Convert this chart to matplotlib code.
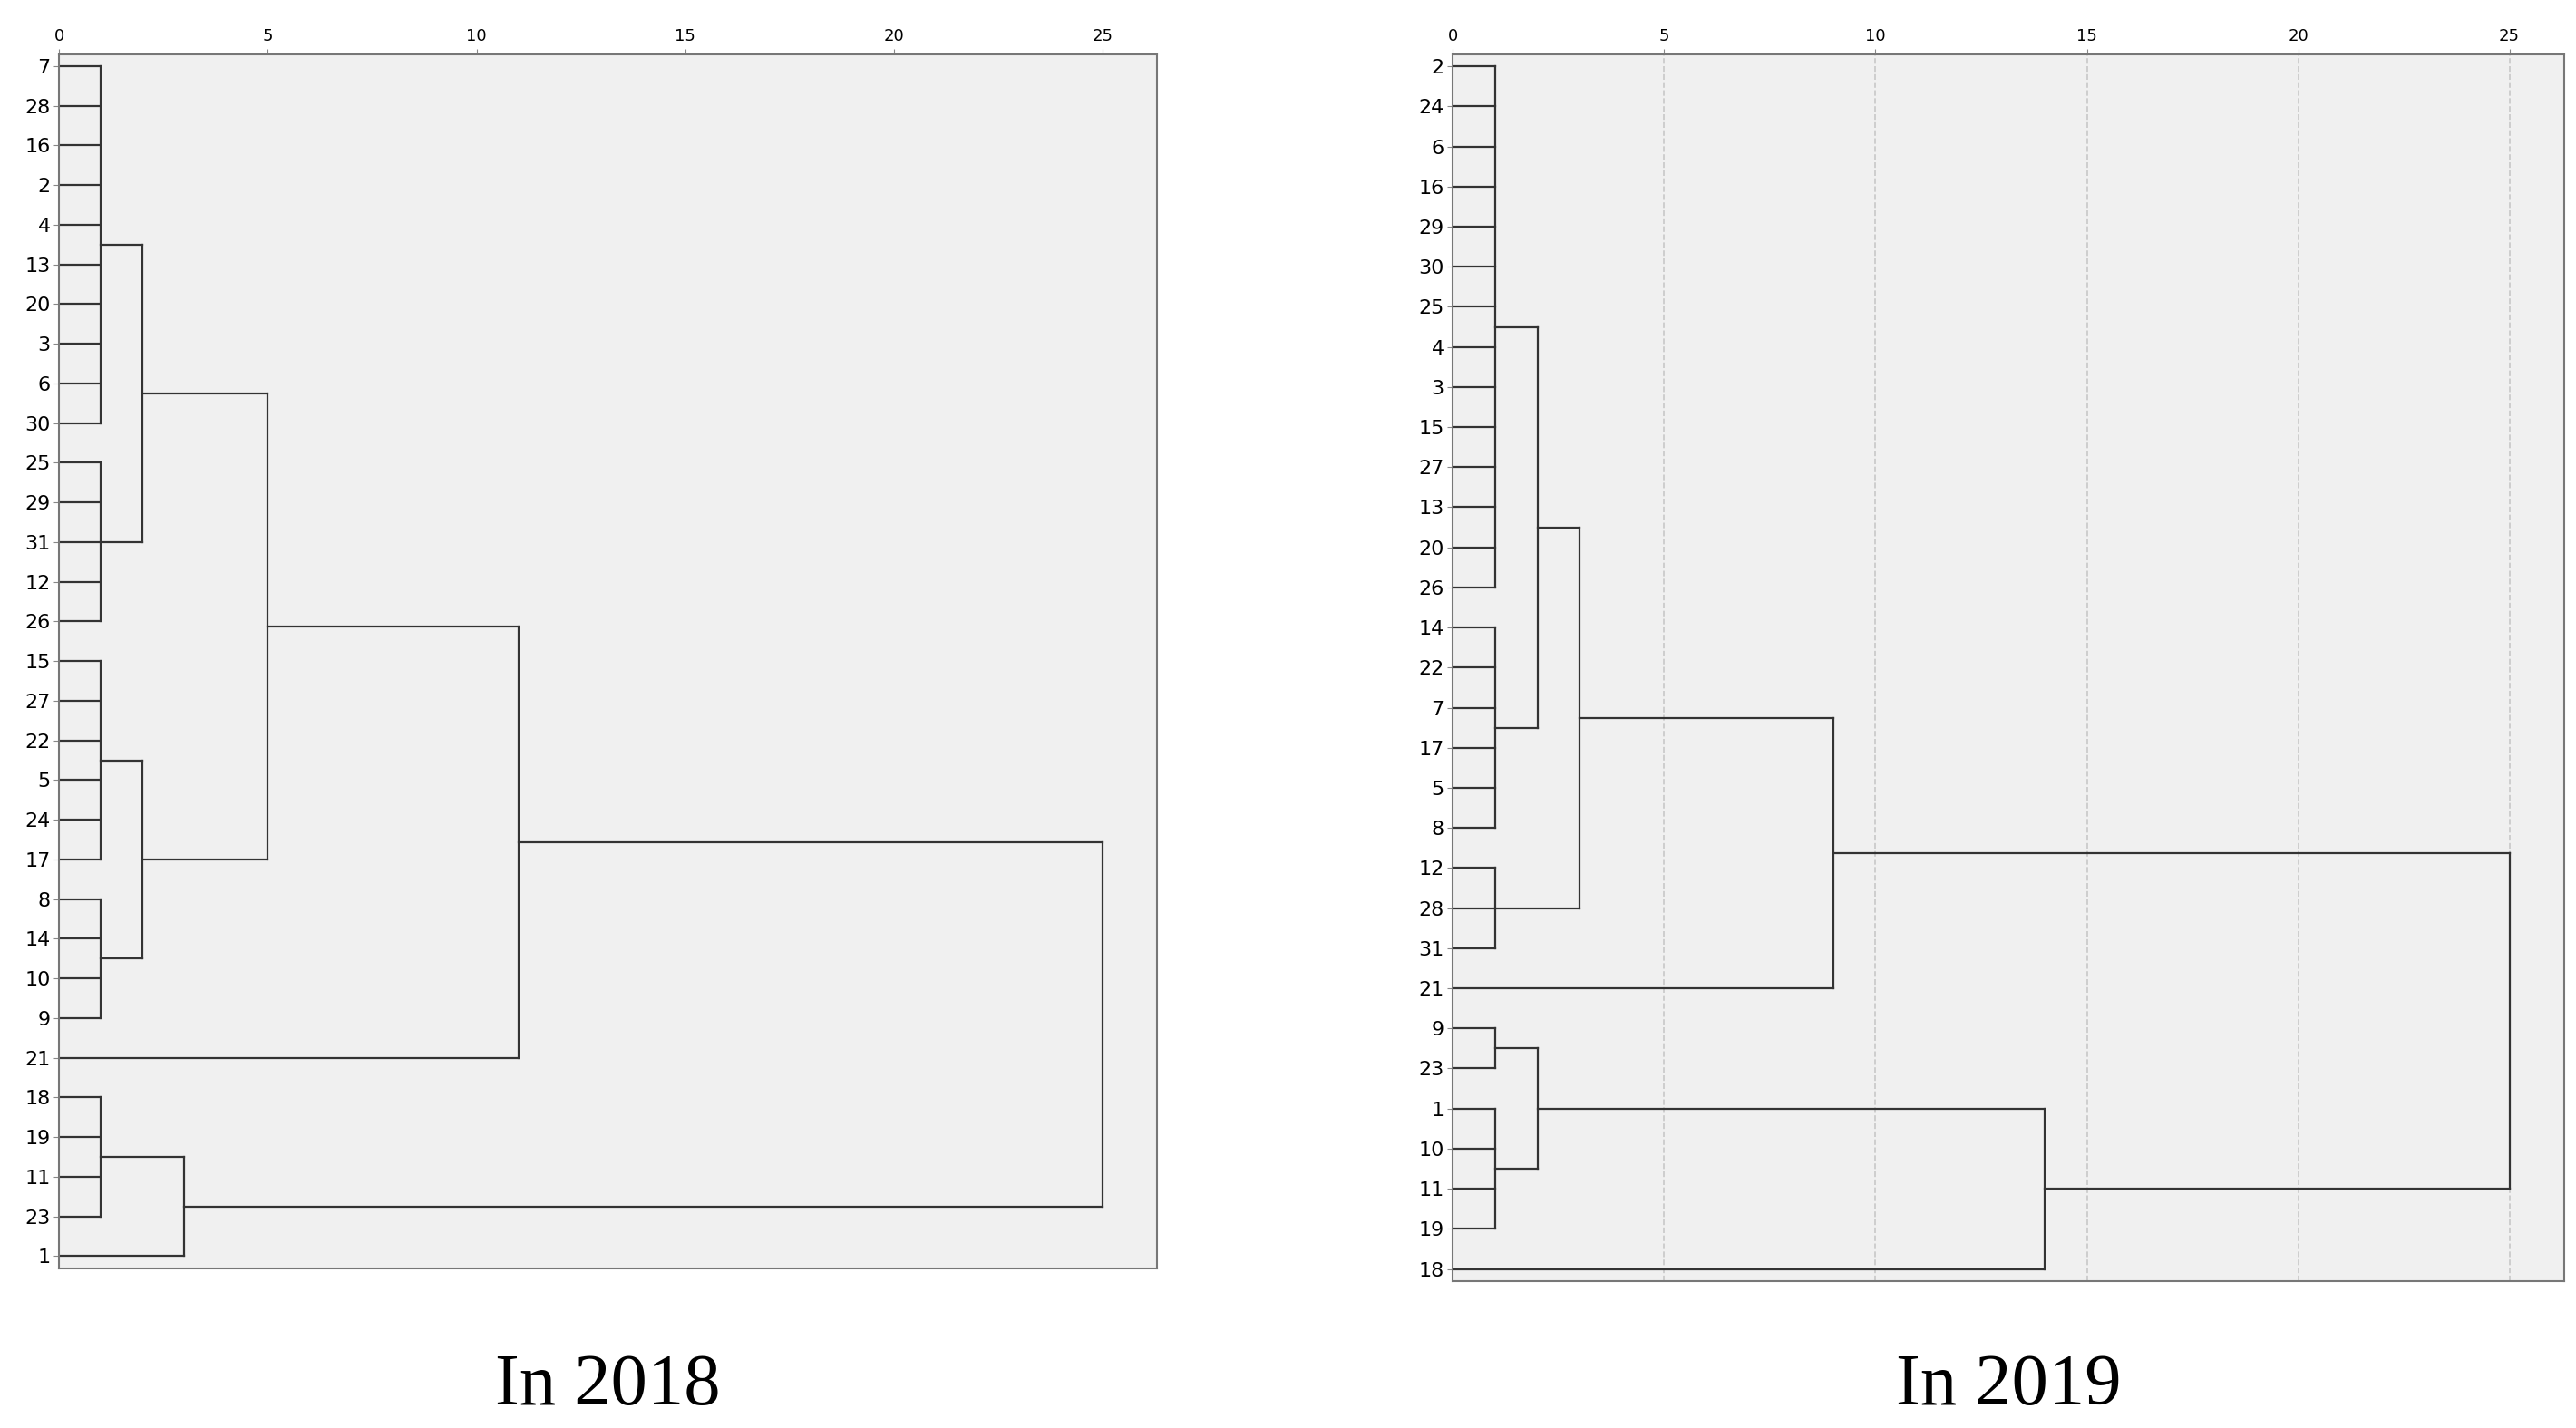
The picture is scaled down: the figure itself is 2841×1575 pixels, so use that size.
import matplotlib.pyplot as plt

# leaf order as printed, top to bottom
leaves_2018 = [7, 28, 16, 2, 4, 13, 20, 3, 6, 30, 25, 29, 31, 12, 26,
               15, 27, 22, 5, 24, 17, 8, 14, 10, 9, 21, 18, 19, 11, 23, 1]
leaves_2019 = [2, 24, 6, 16, 29, 30, 25, 4, 3, 15, 27, 13, 20, 26,
               14, 22, 7, 17, 5, 8, 12, 28, 31, 21, 9, 23, 1, 10, 11, 19, 18]

# clusters: (rescaled distance, [members]); members are leaf ids or clusters
tree_2018 = (25, [
    (11, [(5, [(2, [(1, [7, 28, 16, 2, 4, 13, 20, 3, 6, 30]),
                    (1, [25, 29, 31, 12, 26])]),
               (2, [(1, [15, 27, 22, 5, 24, 17]),
                    (1, [8, 14, 10, 9])])]),
          21]),
    (3, [(1, [18, 19, 11, 23]), 1])])

tree_2019 = (25, [
    (9, [(3, [(2, [(1, [2, 24, 6, 16, 29, 30, 25, 4, 3, 15, 27, 13, 20, 26]),
                   (1, [14, 22, 7, 17, 5, 8])]),
              (1, [12, 28, 31])]),
         21]),
    (14, [(2, [(1, [9, 23]), (1, [1, 10, 11, 19])]), 18])])


def draw(ax, node, pos):
    # returns (x, y) of the node's join point
    if not isinstance(node, tuple):
        return 0, pos[node]
    h, kids = node
    pts = [draw(ax, k, pos) for k in kids]
    ys = [p[1] for p in pts]
    for x, y in pts:
        ax.plot([x, h], [y, y], color='#333333', lw=1.6)
    ax.plot([h, h], [min(ys), max(ys)], color='#333333', lw=1.6)
    return h, sum(ys) / len(ys)


fig = plt.figure(figsize=(28.41, 15.75), dpi=100)
panels = [(leaves_2018, tree_2018, [0.023, 0.112, 0.426, 0.850], False, 'In 2018'),
          (leaves_2019, tree_2019, [0.564, 0.103, 0.4315, 0.859], True, 'In 2019')]

for leaves, tree, rect, grid, title in panels:
    ax = fig.add_axes(rect)
    ax.set_facecolor('#f0f0f0')
    pos = {leaf: i for i, leaf in enumerate(leaves)}
    draw(ax, tree, pos)
    ax.set_xlim(0, 26.3)
    ax.set_ylim(len(leaves) - 0.7, -0.3)
    ax.set_yticks(range(len(leaves)))
    ax.set_yticklabels([str(l) for l in leaves], fontsize=16)
    ax.set_xticks([0, 5, 10, 15, 20, 25])
    ax.xaxis.tick_top()
    ax.tick_params(axis='x', labelsize=13, length=4, color='#888888')
    ax.tick_params(axis='y', length=4, color='#888888', pad=3)
    if grid:
        for v in [5, 10, 15, 20, 25]:
            ax.axvline(v, color='#c8c8c8', ls='--', lw=1.2, zorder=0)
    for s in ax.spines.values():
        s.set_color('#777777')
        s.set_linewidth(1.5)
    fig.text(rect[0] + rect[2] / 2, 0.029, title, ha='center', va='center',
             fontsize=58, family='Liberation Serif')

fig.savefig('out.png')
